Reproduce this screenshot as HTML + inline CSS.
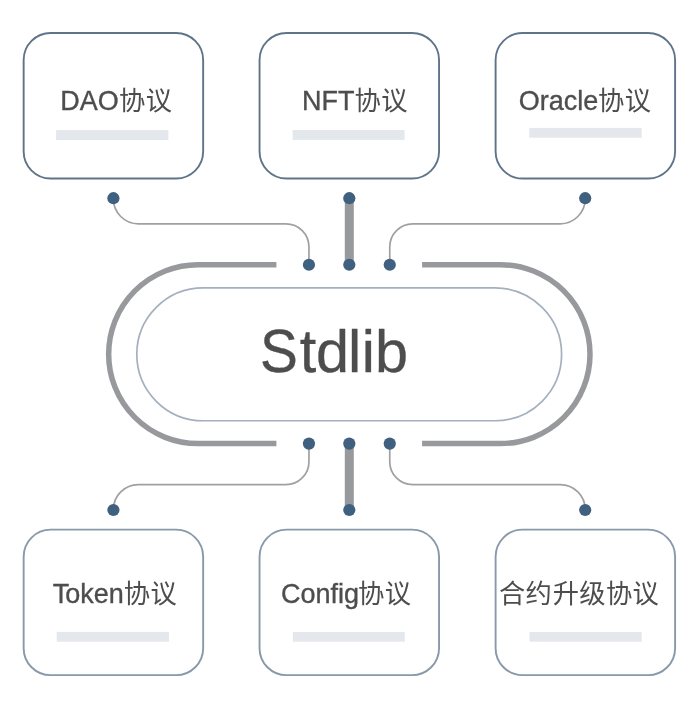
<!DOCTYPE html>
<html><head><meta charset="utf-8"><title>Stdlib</title>
<style>
html,body{margin:0;padding:0;background:#fff;}
body{width:700px;height:706px;overflow:hidden;}
svg{display:block;will-change:transform;font-family:"Liberation Sans","Noto Sans CJK SC",sans-serif;font-kerning:normal;}
</style></head><body>
<svg width="700" height="706" viewBox="0 0 700 706">
<rect width="700" height="706" fill="#fff"/>
<rect x="23.65" y="33" width="179.5" height="145.5" rx="27" ry="27" fill="#fff" stroke="#5f7489" stroke-width="1.9"/>
<rect x="259.55" y="33" width="179.5" height="145.5" rx="27" ry="27" fill="#fff" stroke="#5f7489" stroke-width="1.9"/>
<rect x="495.6" y="33" width="179.5" height="145.5" rx="27" ry="27" fill="#fff" stroke="#5f7489" stroke-width="1.9"/>
<rect x="23.65" y="529.65" width="179.5" height="145.5" rx="27" ry="27" fill="#fff" stroke="#8999aa" stroke-width="1.9"/>
<rect x="259.55" y="529.65" width="179.5" height="145.5" rx="27" ry="27" fill="#fff" stroke="#8999aa" stroke-width="1.9"/>
<rect x="495.6" y="529.65" width="179.5" height="145.5" rx="27" ry="27" fill="#fff" stroke="#8999aa" stroke-width="1.9"/>
<rect x="56.1" y="130.1" width="112.3" height="9.9" fill="#e4e8ed"/>
<rect x="292.6" y="130.0" width="112" height="9.9" fill="#e4e8ed"/>
<rect x="529.2" y="127.9" width="112.5" height="9.8" fill="#e4e8ed"/>
<rect x="56.7" y="631.9" width="112.3" height="9.8" fill="#e4e8ed"/>
<rect x="292.8" y="632" width="112" height="9.7" fill="#e4e8ed"/>
<rect x="529.5" y="632" width="112.2" height="9.7" fill="#e4e8ed"/>
<path d="M276.4 264.70 H198.10 A89.45 89.45 0 0 0 198.10 443.60 H276.4" fill="none" stroke="#98999d" stroke-width="5.5"/>
<path d="M422.1 264.70 H500.55 A89.45 89.45 0 0 1 500.55 443.60 H422.1" fill="none" stroke="#98999d" stroke-width="5.5"/>
<rect x="136.8" y="287.95" width="424.80" height="132.80" rx="66.4" ry="66.4" fill="#fff" stroke="#a5b0be" stroke-width="1.7"/>
<rect x="344.80" y="198.2" width="9" height="66.55" fill="#98999d"/>
<rect x="344.80" y="443.6" width="9" height="66.40" fill="#98999d"/>
<path d="M113.4 198.2 V198.80 A25 25 0 0 0 138.40 223.8 H285.95 A23 23 0 0 1 308.95 246.80 V264.75" fill="none" stroke="#a0a0a3" stroke-width="1.7"/>
<path d="M585.2 198.2 V198.80 A25 25 0 0 1 560.20 223.8 H412.75 A23 23 0 0 0 389.75 246.80 V264.75" fill="none" stroke="#a0a0a3" stroke-width="1.7"/>
<path d="M113.4 510.0 V509.65 A25 25 0 0 1 138.40 484.65 H285.95 A23 23 0 0 0 308.95 461.65 V443.6" fill="none" stroke="#a0a0a3" stroke-width="1.7"/>
<path d="M585.2 510.0 V509.65 A25 25 0 0 0 560.20 484.65 H412.75 A23 23 0 0 1 389.75 461.65 V443.6" fill="none" stroke="#a0a0a3" stroke-width="1.7"/>
<circle cx="113.4" cy="198.2" r="6.1" fill="#40607f"/>
<circle cx="349.3" cy="198.2" r="6.1" fill="#40607f"/>
<circle cx="585.2" cy="198.2" r="6.1" fill="#40607f"/>
<circle cx="308.95" cy="264.75" r="6.1" fill="#40607f"/>
<circle cx="349.3" cy="264.75" r="6.1" fill="#40607f"/>
<circle cx="389.75" cy="264.75" r="6.1" fill="#40607f"/>
<circle cx="308.95" cy="443.6" r="6.1" fill="#40607f"/>
<circle cx="349.3" cy="443.6" r="6.1" fill="#40607f"/>
<circle cx="389.75" cy="443.6" r="6.1" fill="#40607f"/>
<circle cx="113.4" cy="510.0" r="6.1" fill="#40607f"/>
<circle cx="349.3" cy="510.0" r="6.1" fill="#40607f"/>
<circle cx="585.2" cy="510.0" r="6.1" fill="#40607f"/>
<g fill="#4d4d4d">
<g>
<title>DAO协议</title>
<text transform="translate(60.29 109.90) scale(1 1.04)" font-size="27" stroke="#4d4d4d" stroke-width="0.35">DAO</text>
<text x="119.01 145.75" y="110.0" font-size="26.3" font-family="'Liberation Sans','Noto Sans CJK SC',sans-serif">协议</text>
</g>
<g>
<title>NFT协议</title>
<text transform="translate(302.05 109.90) scale(1 1.04)" font-size="27" stroke="#4d4d4d" stroke-width="0.35">NFT</text>
<text x="354.51 381.25" y="110.0" font-size="26.3" font-family="'Liberation Sans','Noto Sans CJK SC',sans-serif">协议</text>
</g>
<g>
<title>Oracle协议</title>
<text transform="translate(518.80 109.90) scale(1 1.02)" font-size="27" stroke="#4d4d4d" stroke-width="0.35">Oracle</text>
<text x="598.01 624.75" y="110.0" font-size="26.3" font-family="'Liberation Sans','Noto Sans CJK SC',sans-serif">协议</text>
</g>
<g>
<title>Token协议</title>
<text transform="translate(52.80 602.80) scale(1 1.02)" font-size="27" stroke="#4d4d4d" stroke-width="0.35">T<tspan dx="-4.0">oken</tspan></text>
<text x="123.71 150.45" y="602.9" font-size="26.3" font-family="'Liberation Sans','Noto Sans CJK SC',sans-serif">协议</text>
</g>
<g>
<title>Config协议</title>
<text transform="translate(280.90 602.80) scale(1 1.02)" font-size="27" stroke="#4d4d4d" stroke-width="0.35">Config</text>
<text x="358.01 384.75" y="602.9" font-size="26.3" font-family="'Liberation Sans','Noto Sans CJK SC',sans-serif">协议</text>
</g>
<g>
<title>合约升级协议</title>
<text x="498.89 525.55 552.82 579.14 605.92 632.55" y="603.2" font-size="26.3" font-family="'Liberation Sans','Noto Sans CJK SC',sans-serif">合约升级协议</text>
</g>
<g stroke="#4d4d4d" stroke-width="0.35" stroke-linejoin="round"><title>Stdlib</title>
<text transform="translate(259.9 371.6) scale(0.955 1.035)" font-size="59.4">S</text>
<text transform="translate(299.7 371.6) scale(1 1.035)" font-size="59.4">t</text>
<text x="316.0 347.95 361.8 375.0" y="371.6" font-size="59.4">dlib</text>
</g>
</g>
</svg>
</body></html>
